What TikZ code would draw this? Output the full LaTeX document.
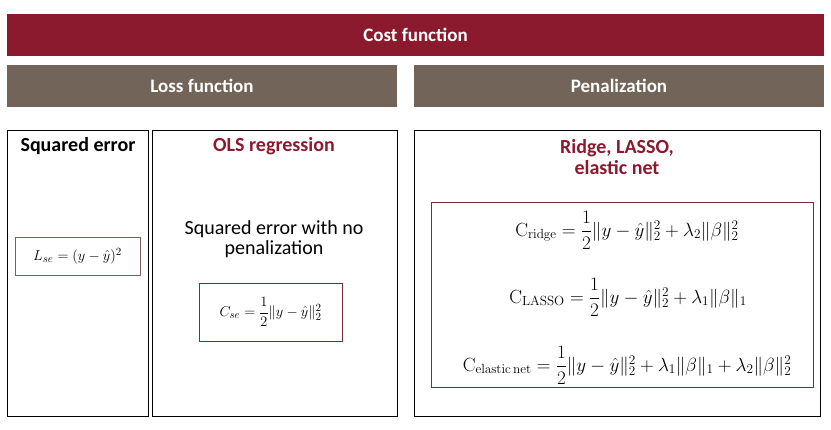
\documentclass[tikz,border=0pt]{standalone}
\usepackage{graphicx}
\usepackage{amsmath}
\usepackage[no-math]{fontspec}
\setmainfont{Carlito}
\definecolor{maroon}{HTML}{8B1A2E}
\definecolor{taupe}{HTML}{736459}
\definecolor{boxline}{HTML}{7E2A33}
\definecolor{boxline2}{HTML}{7D6155}
\newcommand{\eqsc}[1]{\scalebox{0.92}{#1}}
\begin{document}
\begin{tikzpicture}[x=1pt,y=-1pt,
  bar/.style={draw=none,fill=#1,text=white,font=\fontsize{19}{22}\selectfont\bfseries,inner sep=0pt},
  panel/.style={draw=black,line width=1pt,inner sep=0pt},
  fbox/.style={draw=#1,line width=1pt,inner sep=0pt,font=\fontsize{15}{15}\selectfont},
  title/.style={font=\fontsize{20}{21}\selectfont\bfseries,inner sep=0pt,align=center},
  plain/.style={font=\fontsize{20}{20.5}\selectfont,inner sep=0pt,align=center},
  eq/.style={inner sep=0pt,font=\fontsize{#1}{#1}\selectfont}
]
\useasboundingbox (0,0) rectangle (831,429);
% header bars
\node[bar=maroon,minimum width=817pt,minimum height=42pt] (cost) at (415.5,35) {Cost function};
\node[bar=taupe,minimum width=390pt,minimum height=42pt] (loss) at (202,86) {Loss function};
\node[bar=taupe,minimum width=410pt,minimum height=42pt] (pen) at (619,86) {Penalization};
% panels
\node[panel,minimum width=141pt,minimum height=286pt] (sq) at (77.5,273) {};
\node[panel,minimum width=245pt,minimum height=286pt] (ols) at (274.5,273) {};
\node[panel,minimum width=406pt,minimum height=286pt] (rl) at (617,273) {};
% titles
\node[title] (tsq) at (78,146) {Squared error};
\node[title,text=maroon] (tols) at (274,146) {OLS regression};
\node[title,text=maroon] (trl) at (617,157) {Ridge, LASSO,\\elastic net};
\node[plain] (txt) at (274,239) {Squared error with no\\penalization};
% formula boxes
\node[fbox=boxline2,minimum width=125pt,minimum height=38pt] (lbox) at (77.5,256) {$L_{se}=(y-\hat{y})^2$};
\node[fbox=boxline,minimum width=143pt,minimum height=58pt] (cbox) at (270.5,312) {$C_{se}=\dfrac{1}{2}\|y-\hat{y}\|_2^2$};
\node[fbox=boxline,minimum width=382pt,minimum height=185pt] (pbox) at (622,294.5) {};
\node[eq=20] (ridge) at (627,230) {\eqsc{$\mathrm{C}_{\mathrm{ridge}}=\dfrac{1}{2}\|y-\hat{y}\|_2^2+\lambda_2\|\beta\|_2^2$}};
\node[eq=20] (lasso) at (628,297) {\eqsc{$\mathrm{C}_{\mathrm{LASSO}}=\dfrac{1}{2}\|y-\hat{y}\|_2^2+\lambda_1\|\beta\|_1$}};
\node[eq=20] (enet) at (627,365) {\eqsc{$\mathrm{C}_{\mathrm{elastic\,net}}=\dfrac{1}{2}\|y-\hat{y}\|_2^2+\lambda_1\|\beta\|_1+\lambda_2\|\beta\|_2^2$}};
\end{tikzpicture}
\end{document}
